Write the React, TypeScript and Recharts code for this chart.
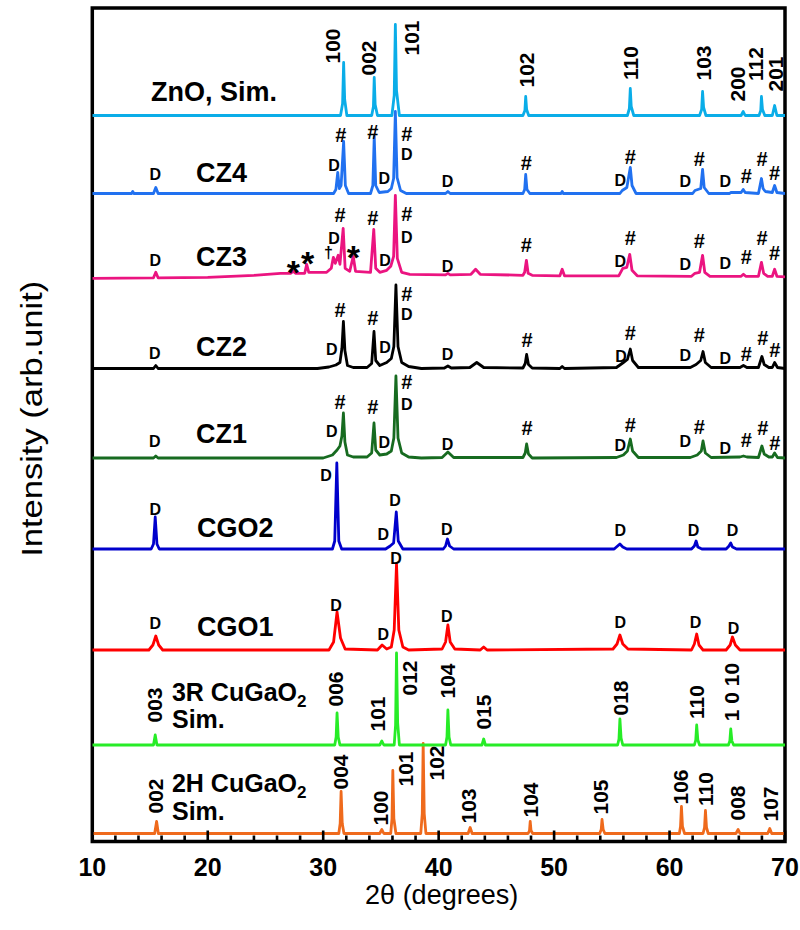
import React from "react"
import { LineChart, Line, XAxis, YAxis, ReferenceArea, ReferenceDot } from "recharts"

const FONT = '"Liberation Sans", Arial, Helvetica, sans-serif'

// x ticks (2-theta, degrees)
const xTicks = [10, 12, 14, 16, 18, 20, 22, 24, 26, 28, 30, 32, 34, 36, 38, 40, 42, 44, 46, 48, 50, 52, 54, 56, 58, 60, 62, 64, 66, 68, 70]
const majorTicks = [10, 20, 30, 40, 50, 60, 70]

// patterns: [2theta, intensity above own baseline]
const zno: number[][] = [[10,0],[31.5,0],[31.68,12],[31.77,53],[31.86,16],[32.05,0],[34.2,0],[34.35,9],[34.42,38],[34.5,11],[34.7,0],[35.95,0],[36.15,20],[36.25,91],[36.35,25],[36.6,0],[47.3,0],[47.47,5],[47.54,19],[47.62,6],[47.8,0],[56.35,0],[56.52,7],[56.6,27],[56.68,9],[56.9,0],[62.6,0],[62.78,6],[62.86,24],[62.95,8],[63.15,0],[66.2,0],[66.38,4],[66.55,0],[67.75,0],[67.9,5],[67.96,19],[68.05,6],[68.25,0],[68.9,0],[69.1,10],[69.3,0],[70,0]]
const cz4: number[][] = [[10,0],[13.4,0],[13.5,2],[13.6,0],[15.3,0],[15.5,6],[15.7,0],[30.9,0],[31.1,4],[31.26,21],[31.4,5],[31.55,8],[31.77,52],[31.92,8],[32.2,0],[34.1,0],[34.3,8],[34.42,57],[34.55,8],[34.85,1],[35.6,2],[35.9,5],[36.1,15],[36.25,82],[36.4,16],[36.7,3],[37.2,0],[40.6,0],[40.8,2],[41.0,0],[47.3,0],[47.45,4],[47.54,19],[47.65,4],[47.9,0],[50.6,0],[50.7,2],[50.8,0],[55.7,0],[55.9,3],[56.3,6],[56.6,26],[56.75,8],[57.1,0],[62.0,0],[62.2,3],[62.7,5],[62.86,24],[63.0,6],[63.4,0],[65.2,0],[65.3,1],[66.2,1],[66.38,4],[66.55,1],[67.7,0],[67.96,15],[68.1,5],[68.3,2],[68.9,1],[69.1,8],[69.3,1],[70,0]]
const cz3: number[][] = [[10,0],[15.3,0.5],[15.5,6],[15.7,0.5],[20,1],[24,3],[26.3,5],[27.2,5],[27.4,7],[27.6,5],[28.4,5],[28.57,14],[28.75,6],[30.3,6],[30.7,10],[30.88,21],[31.05,15],[31.3,23],[31.45,14],[31.73,50],[31.9,10],[32.3,7],[32.6,22],[32.8,7],[34.1,6],[34.38,49],[34.55,10],[34.9,6],[35.5,8],[35.85,12],[36.1,22],[36.25,83],[36.42,20],[36.8,6],[37.5,4],[40.6,3.5],[40.8,5],[41,3.5],[42.8,4],[43.2,9],[43.6,4],[47.3,3],[47.45,6],[47.6,18],[47.75,5],[48.1,3],[50.5,2.5],[50.7,9],[50.9,2.5],[55.6,2.5],[55.95,10],[56.3,11],[56.55,24],[56.75,8],[57.2,2.5],[61.9,2],[62.2,5],[62.6,6],[62.86,23],[63.05,6],[63.5,2],[66.2,2],[66.4,4],[66.6,2],[67.7,2],[67.96,16],[68.15,5],[68.5,2],[68.9,2],[69.1,9],[69.3,2],[70,1.5]]
const cz2: number[][] = [[10,0],[15.3,0],[15.5,3],[15.7,0],[29.5,0],[30.5,1.5],[31.1,3.5],[31.45,6],[31.62,20],[31.75,47],[31.88,18],[32.1,3],[32.6,1],[33.8,1],[34.2,5],[34.4,37],[34.55,8],[34.9,3],[35.5,6],[35.9,10],[36.12,22],[36.3,83.5],[36.48,22],[36.8,6],[37.4,2],[38.5,0],[40.5,0.5],[40.8,2.5],[41.1,0.5],[42.7,1],[43.3,6],[43.9,1],[47.3,0.5],[47.5,5],[47.62,14],[47.78,4],[48.1,0.5],[50.5,0],[50.7,2],[50.9,0],[55.4,1],[56.0,6],[56.35,9],[56.6,19.5],[56.8,8],[57.3,1],[61.8,1],[62.3,4],[62.7,8],[62.9,17],[63.1,6],[63.6,1],[66.1,1],[66.4,3],[66.7,1],[67.7,1],[68.0,12],[68.2,4],[68.6,1],[68.9,1],[69.1,6],[69.35,1],[70,0]]
const cz1: number[][] = [[10,0],[15.3,0],[15.5,2],[15.7,0],[30,0],[30.8,3],[31.2,8],[31.45,12],[31.62,22],[31.75,45],[31.88,16],[32.1,3],[32.6,1],[33.8,1],[34.2,5],[34.4,35],[34.55,8],[34.9,3],[35.5,4],[35.9,7],[36.12,20],[36.3,82],[36.48,20],[36.8,5],[37.4,1],[38.5,0],[40.3,0.5],[40.8,6],[41.3,0.5],[47.3,0.5],[47.5,5],[47.62,14],[47.78,4],[48.1,0],[55.4,0.5],[56.0,3],[56.35,7],[56.6,19],[56.8,7],[57.3,0.5],[61.8,0.5],[62.4,3],[62.75,7],[62.9,17],[63.1,5],[63.6,0.5],[66.1,1],[66.4,2],[66.7,1],[67.7,0.5],[68.0,12],[68.2,4],[68.6,1],[68.9,1],[69.1,5],[69.35,0.5],[70,0]]
const cgo2: number[][] = [[10,0],[15.1,0],[15.3,5],[15.45,32],[15.6,5],[15.8,0],[30.8,0],[31.0,8],[31.18,86],[31.35,8],[31.6,0],[35.4,0],[35.8,3],[36.1,6],[36.33,37],[36.5,8],[36.9,0],[40.4,0],[40.6,3],[40.76,10],[40.95,3],[41.3,0],[55.2,0],[55.5,3],[55.7,5],[55.95,2],[56.3,0],[61.9,0],[62.15,3],[62.3,8],[62.45,2],[62.8,0],[64.9,0],[65.15,3],[65.3,6],[65.45,2],[65.8,0],[70,0]]
const cgo1: number[][] = [[10,0],[14.9,0],[15.25,5],[15.5,14],[15.75,5],[16.1,0],[30.5,0],[30.9,8],[31.2,38],[31.5,12],[31.9,1],[34.7,0],[35.1,5],[35.5,1],[35.9,3],[36.15,20],[36.35,86],[36.55,20],[36.9,3],[37.4,0],[40.3,1],[40.6,8],[40.8,25],[41.0,8],[41.4,1],[43.6,0],[43.9,3],[44.2,0],[55.1,1],[55.45,6],[55.7,15],[55.95,6],[56.4,1],[61.9,0],[62.15,6],[62.35,16],[62.55,5],[62.9,0],[64.9,0],[65.25,5],[65.45,13],[65.7,5],[66.1,0],[70,0]]
const r3: number[][] = [[10,0],[15.3,0],[15.45,10],[15.6,0],[31.0,0],[31.12,8],[31.2,32],[31.3,8],[31.45,0],[34.9,0],[35.08,4],[35.25,0],[36.15,0],[36.27,20],[36.35,92],[36.45,22],[36.6,0],[40.6,0],[40.72,8],[40.8,35],[40.9,8],[41.05,0],[43.75,0],[43.9,6],[44.05,0],[55.5,0],[55.62,6],[55.7,26],[55.8,7],[55.95,0],[62.15,0],[62.27,5],[62.35,20],[62.45,5],[62.6,0],[65.1,0],[65.22,4],[65.3,16],[65.4,4],[65.55,0],[70,0]]
const h2: number[][] = [[10,0],[15.4,0],[15.57,12],[15.72,0],[31.35,0],[31.47,10],[31.55,42],[31.65,10],[31.8,0],[34.9,0],[35.08,4],[35.25,0],[35.85,0],[35.96,15],[36.03,63],[36.12,15],[36.3,0],[38.45,0],[38.58,20],[38.66,90],[38.75,20],[38.9,0],[42.55,0],[42.73,6],[42.9,0],[47.75,0],[47.87,3],[47.93,12],[48.0,3],[48.15,0],[53.95,0],[54.08,4],[54.15,14],[54.25,4],[54.4,0],[60.85,0],[60.95,7],[61.03,27],[61.12,7],[61.3,0],[62.9,0],[63.03,6],[63.11,23],[63.2,6],[63.35,0],[65.75,0],[65.94,4],[66.1,0],[68.5,0],[68.68,5],[68.85,0],[70,0]]

// stacking offsets (arb. units)
const offsets = [10.5, 99, 194, 295, 386, 475.5, 565.7, 650.5, 728.5]
const patterns = [h2, r3, cgo1, cgo2, cz1, cz2, cz3, cz4, zno]
const colors = ["#ef6a1c", "#27ec27", "#ff0000", "#0000cc", "#176b20", "#000000", "#eb1480", "#2171f0", "#0aade8"]

// sample names [text, x, y]
const names: [string, number, number][] = [
  ["ZnO, Sim.", 15.08, 753], ["CZ4", 18.98, 671.5], ["CZ3", 18.98, 587.5], ["CZ2", 18.98, 498],
  ["CZ1", 18.98, 411], ["CGO2", 19.07, 317], ["CGO1", 19.07, 218],
]
const simNames: [string, number, number][] = [
  ["3R CuGaO", 16.9, 152], ["Sim.", 16.9, 124.5], ["2H CuGaO", 16.9, 60.5], ["Sim.", 16.9, 32.5],
]

// Miller indices (rotated)
const hkl: [string, number, number][] = [
  ["100", 30.77, 798], ["002", 33.89, 786], ["101", 37.62, 806], ["102", 47.59, 774], ["110", 56.61, 781],
  ["103", 62.94, 781], ["200", 65.89, 760], ["112", 67.44, 780], ["201", 69.18, 770],
  ["003", 15.42, 139], ["006", 31.11, 155], ["101", 34.75, 130], ["012", 37.44, 166], ["104", 40.81, 163],
  ["015", 43.86, 132], ["018", 55.74, 146], ["110", 62.33, 142], ["1 0 10", 65.36, 152],
  ["002", 15.51, 48], ["004", 31.46, 72], ["100", 34.93, 36], ["101", 37.1, 75], ["102", 39.78, 81],
  ["103", 42.56, 38], ["104", 47.94, 44], ["105", 54.0, 47], ["106", 60.94, 57], ["110", 63.11, 55],
  ["008", 65.89, 41], ["107", 68.75, 40],
]

// phase marks
const marks: [string, number, number][] = [
  ["D",15.45,669.7],["D",30.94,679],["#",31.52,709],["#",34.30,712.3],["#",37.24,710.5],["D",37.24,689.8],["D",35.28,665.7],["D",40.76,662.3],["#",47.59,680.7],["#",56.60,687.3],["D",55.74,664],["#",62.57,684.7],["D",61.36,662.3],["D",64.83,662.3],["#",66.64,668],["#",68.02,684.7],["#",69.09,671.3],
  ["D",15.45,583.3],["*",27.41,579],["*",28.66,587.3],["†",30.45,590.7],["D",30.94,606],["#",31.46,629],["*",32.61,594],["#",34.30,625.7],["#",37.24,630.5],["D",37.24,606.5],["D",35.36,584],["D",40.76,578],["#",47.59,599],["#",56.60,605.7],["D",55.74,582.3],["#",62.57,603],["D",61.36,580],["D",64.83,580.7],["#",66.64,587.3],["#",68.02,605.7],["#",69.09,590.7],
  ["D",15.42,491],["#",31.46,534],["D",30.74,494.7],["#",34.30,525.7],["D",35.36,496.7],["#",37.24,550.5],["D",37.24,529.2],["D",40.76,490],["#",47.65,504],["#",56.60,510.7],["D",55.80,488],["#",62.57,509],["D",61.36,489],["D",64.83,485.7],["#",66.64,490],["#",68.08,506.3],["#",69.12,494],
  ["D",15.42,403],["#",31.46,442.3],["D",30.74,412.3],["#",34.30,437.3],["D",35.28,401.3],["#",37.24,462.2],["D",37.24,439.8],["D",40.76,400],["#",47.65,415.7],["#",56.60,419],["D",55.74,399],["#",62.57,417.3],["D",61.36,402.3],["D",64.83,395.7],["#",66.64,404],["#",68.08,415.7],["#",69.12,401.3],
  ["D",15.45,334.7],["D",30.25,369],["D",36.23,344],["D",35.21,310],["D",40.71,314.7],["D",55.74,314],["D",62.07,314],["D",65.45,314],
  ["D",15.45,220.7],["D",31.11,239],["D",36.31,285.7],["D",35.21,210],["D",40.71,227.3],["D",55.74,222],["D",62.24,222],["D",65.54,216],
]

const markSize: Record<string, number> = { D: 16, "#": 20, "*": 34, "†": 16 }
const markLift: Record<string, number> = { D: 0.355, "#": 0.35, "*": 0.55, "†": 0.3 }

const center = (p: any) => {
  const vb = p.viewBox || { x: 0, y: 0, width: 0, height: 0 }
  return [vb.x + (vb.width || 0) / 2, vb.y + (vb.height || 0) / 2]
}

const markLabel = (t: string) => (p: any) => {
  const [cx, cy] = center(p)
  const s = markSize[t]
  return <text x={cx} y={cy + markLift[t] * s} textAnchor="middle" fontSize={s} fontWeight="bold" fontFamily={FONT} fill="#000">{t}</text>
}

const hklLabel = (t: string) => (p: any) => {
  const [cx, cy] = center(p)
  return <text x={cx} y={cy + 0.355 * 21} transform={`rotate(-90 ${cx} ${cy})`} textAnchor="middle" fontSize={21} fontWeight="bold" fontFamily={FONT} fill="#000">{t}</text>
}

const nameLabel = (t: string, size: number, sub: boolean) => (p: any) => {
  const [cx, cy] = center(p)
  return (
    <text x={cx} y={cy + 0.355 * size} fontSize={size} fontWeight="bold" fontFamily={FONT} fill="#000">
      {t}
      {sub && <tspan dy={6} fontSize={17}>2</tspan>}
    </text>
  )
}

const BottomTick = (p: any) => {
  const v = p.payload.value
  const major = majorTicks.includes(v)
  return (
    <g>
      <line x1={p.x} x2={p.x} y1={p.y - 1} y2={p.y - (major ? 11 : 6)} stroke="#000" strokeWidth={2.6} />
      {major && <text x={p.x} y={p.y + 34} textAnchor="middle" fontSize={25} fontWeight="bold" fontFamily={FONT} fill="#000">{v}</text>}
    </g>
  )
}

const TopTick = (p: any) => {
  const major = majorTicks.includes(p.payload.value)
  return <line x1={p.x} x2={p.x} y1={p.y + 1} y2={p.y + (major ? 11 : 6)} stroke="#000" strokeWidth={2.6} />
}

const YTitle = (p: any) => {
  const vb = p.viewBox
  const cx = vb.x + 10
  const cy = vb.y + vb.height / 2 - 6
  return (
    <text x={cx} y={cy} transform={`rotate(-90 ${cx} ${cy})`} textAnchor="middle" fontSize={29} fontFamily={FONT} fill="#000" textLength={276} lengthAdjust="spacingAndGlyphs">
      Intensity (arb.unit)
    </text>
  )
}

const XTitle = (p: any) => {
  const vb = p.viewBox
  return (
    <text x={vb.x + vb.width / 2 + 3} y={vb.y + 62} textAnchor="middle" fontSize={27} fontFamily={FONT} fill="#000">
      2θ (degrees)
    </text>
  )
}

export default function App() {
  const series = patterns.map((pts, i) => pts.map(([x, y]) => ({ x, y: y + offsets[i] })))
  return (
    <div style={{ position: "absolute", left: 0, top: 0, width: 800, height: 930, background: "#fff" }}>
      <LineChart width={800} height={930} margin={{ top: 8, right: 15, bottom: 0, left: 32.3 }}>
        <XAxis xAxisId="b" type="number" dataKey="x" domain={[10, 70]} ticks={xTicks} interval={0} allowDataOverflow
          height={88.5} tickSize={0} tickMargin={0} axisLine={false} tickLine={false} tick={<BottomTick />} label={<XTitle />} />
        <XAxis xAxisId="t" orientation="top" type="number" dataKey="x" domain={[10, 70]} ticks={xTicks} interval={0} allowDataOverflow
          height={0} tickSize={0} tickMargin={0} axisLine={false} tickLine={false} tick={<TopTick />} />
        <YAxis yAxisId="l" type="number" domain={[2.5, 836]} allowDataOverflow width={60} axisLine={false} tickLine={false} tick={false} label={<YTitle />} />
        {series.map((d, i) => (
          <Line key={i} xAxisId="b" yAxisId="l" data={d} dataKey="y" type="linear" stroke={colors[i]} strokeWidth={2.8}
            dot={false} activeDot={false} isAnimationActive={false} strokeLinejoin="round" />
        ))}
        <ReferenceArea xAxisId="b" yAxisId="l" x1={10} x2={70} y1={2.5} y2={836} fill="none" stroke="#000" strokeWidth={3.5} ifOverflow="visible" />
        {names.map((n, i) => (
          <ReferenceDot key={"n" + i} xAxisId="b" yAxisId="l" x={n[1]} y={n[2]} r={0} fill="none" stroke="none" label={nameLabel(n[0], 27, false)} />
        ))}
        {simNames.map((n, i) => (
          <ReferenceDot key={"s" + i} xAxisId="b" yAxisId="l" x={n[1]} y={n[2]} r={0} fill="none" stroke="none" label={nameLabel(n[0], 25, n[0] !== "Sim.")} />
        ))}
        {hkl.map((n, i) => (
          <ReferenceDot key={"h" + i} xAxisId="b" yAxisId="l" x={n[1]} y={n[2]} r={0} fill="none" stroke="none" label={hklLabel(n[0])} />
        ))}
        {marks.map((n, i) => (
          <ReferenceDot key={"m" + i} xAxisId="b" yAxisId="l" x={n[1]} y={n[2]} r={0} fill="none" stroke="none" label={markLabel(n[0])} />
        ))}
      </LineChart>
    </div>
  )
}
